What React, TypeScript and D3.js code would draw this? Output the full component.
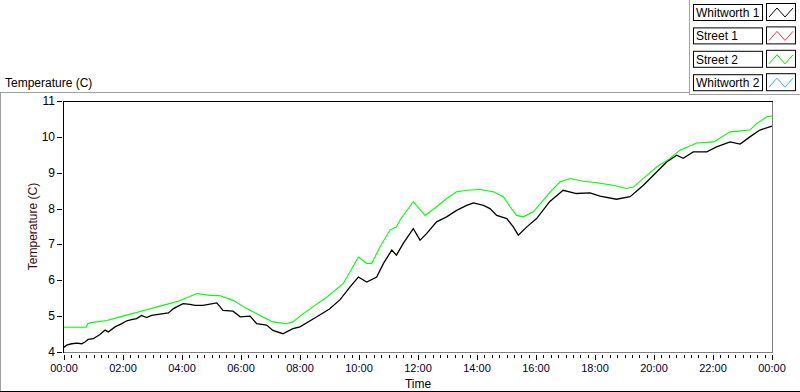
import React from "react";
import * as d3 from "d3";

// ---- data (hours since 00:00, temperature °C) ----
const streetHours = [0, 0.75, 0.8, 0.9, 1.45, 2.0, 2.8, 3.25, 3.9, 4.5, 4.95, 5.29, 5.73, 6.19, 6.64, 7.08, 7.55, 7.76, 8.0, 8.5, 8.85, 9.47, 9.98, 10.26, 10.43, 10.71, 11.05, 11.27, 11.39, 11.84, 12.24, 12.63, 12.97, 13.31, 13.65, 14.1, 14.55, 14.89, 15.12, 15.34, 15.57, 15.91, 16.47, 16.81, 17.15, 17.6, 18.06, 18.61, 19.07, 19.3, 19.64, 20.09, 20.54, 20.88, 21.45, 22.02, 22.58, 23.25, 23.48, 23.82, 24.0];
const streetTemps = [4.69, 4.69, 4.78, 4.82, 4.88, 5.0, 5.18, 5.28, 5.42, 5.63, 5.58, 5.57, 5.44, 5.21, 5.02, 4.84, 4.79, 4.84, 5.0, 5.3, 5.49, 5.91, 6.65, 6.47, 6.47, 6.93, 7.4, 7.49, 7.68, 8.19, 7.81, 8.05, 8.28, 8.47, 8.51, 8.53, 8.47, 8.33, 8.05, 7.81, 7.77, 7.91, 8.45, 8.74, 8.84, 8.76, 8.72, 8.65, 8.56, 8.6, 8.84, 9.16, 9.4, 9.63, 9.83, 9.86, 10.14, 10.19, 10.37, 10.56, 10.58];

const whitHours = [0, 0.01, 0.09, 0.26, 0.43, 0.6, 0.71, 0.82, 0.99, 1.22, 1.39, 1.5, 1.73, 1.96, 2.13, 2.29, 2.46, 2.63, 2.8, 2.97, 3.14, 3.37, 3.54, 3.71, 3.87, 4.04, 4.27, 4.44, 4.61, 4.71, 5.18, 5.39, 5.73, 5.97, 6.31, 6.53, 6.87, 7.08, 7.42, 7.76, 8.0, 8.5, 9.0, 9.36, 9.69, 9.98, 10.26, 10.6, 10.83, 11.11, 11.27, 11.5, 11.84, 12.07, 12.29, 12.63, 12.97, 13.31, 13.65, 13.88, 14.22, 14.44, 14.67, 15.01, 15.23, 15.4, 15.69, 16.02, 16.47, 16.92, 17.37, 17.83, 18.17, 18.73, 19.19, 19.64, 20.09, 20.43, 20.77, 20.99, 21.33, 21.79, 22.12, 22.58, 22.92, 23.25, 23.59, 24.0];
const whitTemps = [4.12, 4.14, 4.19, 4.23, 4.25, 4.23, 4.28, 4.35, 4.37, 4.49, 4.61, 4.56, 4.7, 4.79, 4.87, 4.9, 4.93, 5.02, 4.96, 5.02, 5.04, 5.07, 5.09, 5.21, 5.28, 5.35, 5.33, 5.3, 5.3, 5.3, 5.37, 5.16, 5.14, 4.98, 5.0, 4.79, 4.75, 4.6, 4.51, 4.65, 4.7, 4.95, 5.2, 5.46, 5.81, 6.09, 5.95, 6.09, 6.47, 6.84, 6.7, 7.03, 7.44, 7.12, 7.3, 7.63, 7.77, 7.95, 8.09, 8.16, 8.09, 8.0, 7.81, 7.72, 7.49, 7.26, 7.49, 7.72, 8.2, 8.51, 8.42, 8.44, 8.35, 8.26, 8.33, 8.65, 9.02, 9.3, 9.49, 9.4, 9.58, 9.58, 9.72, 9.86, 9.8, 10.0, 10.19, 10.3];

const legendNames = ["Whitworth 1", "Street 1", "Street 2", "Whitworth 2"];
const legendColors = ["#000000", "#ff3030", "#00e000", "#30b0ff"];

const yTicks = [4, 5, 6, 7, 8, 9, 10, 11];
const xMajorTicks = [0, 2, 4, 6, 8, 10, 12, 14, 16, 18, 20, 22, 24];

const FONT = "'Liberation Sans', Arial, sans-serif";

export default function App() {
  const left = 64, right = 772, top = 101, bottom = 352;
  const x = d3.scaleLinear().domain([0, 24]).range([left, right]);
  const y = d3.scaleLinear().domain([4, 11]).range([bottom, top]);

  const mk = (hs: number[], vs: number[]) =>
    d3.line<number>().x((_, i) => x(hs[i])).y((v) => y(v))(vs) || "";

  const minorTicks = d3.range(0, 24 * 4 + 1).map((k) => k / 4).filter((h) => h % 2 !== 0);
  const fmt = (h: number) => String(h % 24).padStart(2, "0") + ":00";

  return (
    <svg width={800} height={392} style={{ position: "absolute", left: 0, top: 0, background: "#fff" }} fontFamily={FONT}>
      <rect x={0} y={0} width={800} height={392} fill="#fff" />
      {/* chart panel borders */}
      <line x1={0} x2={690} y1={92.5} y2={92.5} stroke="#a0a0a0" />
      <line x1={0.5} x2={0.5} y1={92} y2={391} stroke="#a0a0a0" />
      <line x1={0} x2={800} y1={391.5} y2={391.5} stroke="#000" />
      <text x={5} y={87} fontSize={12} fill="#000">Temperature (C)</text>

      {/* legend panel */}
      <line x1={689.5} x2={689.5} y1={0} y2={95} stroke="#a0a0a0" />
      <line x1={689} x2={800} y1={94.5} y2={94.5} stroke="#a0a0a0" />
      {legendNames.map((n, i) => {
        const ty = 4 + i * 23.4;
        const ix = 767;
        return (
          <g key={n}>
            <rect x={693.5} y={ty + 0.5} width={69} height={16} fill="#fff" stroke="#000" />
            <text x={696} y={ty + 13} fontSize={12} fill="#000">{n}</text>
            <rect x={766.5} y={ty - 0.5} width={29} height={17} fill="#fff" stroke="#000" />
            <polyline
              points={`${ix + 2},${ty + 13} ${ix + 10},${ty + 4} ${ix + 18},${ty + 13} ${ix + 26},${ty + 4}`}
              fill="none" stroke={legendColors[i]} strokeWidth={1}
            />
          </g>
        );
      })}

      {/* plot frame */}
      <line x1={right + 0.5} x2={right + 0.5} y1={top} y2={bottom} stroke="#808080" />
      <line x1={left} x2={right + 1} y1={bottom + 0.5} y2={bottom + 0.5} stroke="#808080" />
      <line x1={left - 0.5} x2={left - 0.5} y1={top} y2={bottom + 1} stroke="#000" />
      <line x1={left - 1} x2={right + 1} y1={top + 0.5} y2={top + 0.5} stroke="#000" />

      {/* y axis */}
      {yTicks.map((t) => (
        <g key={t}>
          <line x1={57} x2={62} y1={Math.round(y(t)) + 0.5} y2={Math.round(y(t)) + 0.5} stroke="#000" />
          <text x={55} y={y(t) + 4} fontSize={12} textAnchor="end" fill="#000">{t}</text>
        </g>
      ))}
      <text transform={`translate(37,${(top + bottom) / 2}) rotate(-90)`} fontSize={12} textAnchor="middle" fill="#3a0a0a">Temperature (C)</text>

      {/* x axis */}
      {minorTicks.map((h) => (
        <line key={"m" + h} x1={Math.round(x(h)) + 0.5} x2={Math.round(x(h)) + 0.5} y1={355} y2={358} stroke="#000" />
      ))}
      {xMajorTicks.map((h) => (
        <g key={h}>
          <line x1={Math.round(x(h)) + 0.5} x2={Math.round(x(h)) + 0.5} y1={355} y2={360} stroke="#000" />
          <text x={x(h)} y={372} fontSize={11} textAnchor="middle" fill="#000030">{fmt(h)}</text>
        </g>
      ))}
      <text x={(left + right) / 2} y={388} fontSize={12} textAnchor="middle" fill="#000">Time</text>

      {/* series */}
      <path d={mk(streetHours, streetTemps)} fill="none" stroke="#00ff00" strokeWidth={1.1} />
      <path d={mk(whitHours, whitTemps)} fill="none" stroke="#000" strokeWidth={1.3} />
    </svg>
  );
}
